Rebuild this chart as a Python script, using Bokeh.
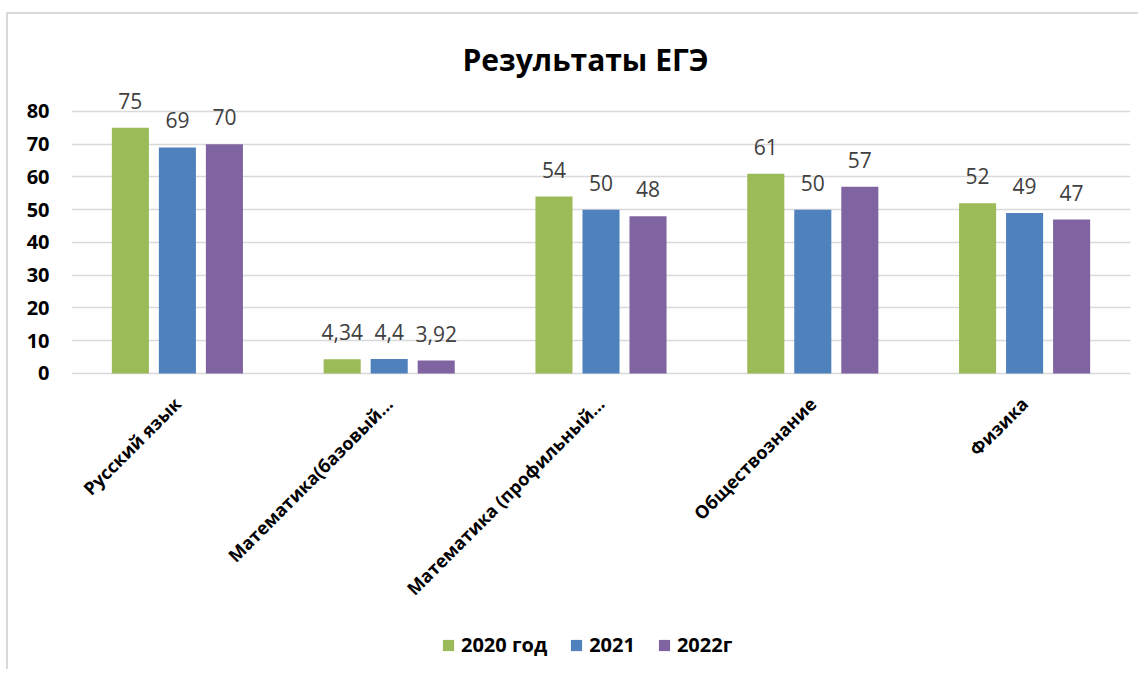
import math
from bokeh.plotting import figure
from bokeh.models import (ColumnDataSource, Range1d, FactorRange, FixedTicker, LabelSet,
                          Legend, LegendItem)
from bokeh.transform import dodge
from bokeh.core.properties import value
from bokeh.embed import file_html
from bokeh.resources import INLINE

categories = ["Русский язык", "Математика(базовый…", "Математика (профильный…",
              "Обществознание", "Физика"]
series_names = ["2020 год", "2021", "2022г"]
values_2020 = [75, 4.34, 54, 61, 52]
values_2021 = [69, 4.4, 50, 50, 49]
values_2022 = [70, 3.92, 48, 57, 47]
y_ticks = [0, 10, 20, 30, 40, 50, 60, 70, 80]
colors = ["#9BBB59", "#4F81BD", "#8064A2"]


def fmt(v):
    return f"{v:g}".replace(".", ",")


data = dict(cat=categories,
            zero=[0] * len(categories),
            v2020=values_2020, v2021=values_2021, v2022=values_2022,
            t2020=[fmt(v) for v in values_2020],
            t2021=[fmt(v) for v in values_2021],
            t2022=[fmt(v) for v in values_2022])
src = ColumnDataSource(data)

FONT = "Open Sans"

# the frame reaches below zero so that the rotated category labels and the
# legend can be drawn inside it
p = figure(x_range=FactorRange(*categories), y_range=Range1d(-90.4, 86.4),
           frame_width=1059, frame_height=579,
           min_border_left=63, min_border_right=8, min_border_top=76, min_border_bottom=0,
           output_backend="svg", toolbar_location=None, title="Результаты ЕГЭ")
p.margin = (12, 0, 0, 6)
p.styles = {"border-top": "2px solid #d9d9d9", "border-left": "2px solid #d9d9d9"}

p.title.align = "left"
p.title.offset = 391
p.title.standoff = 22
p.title.text_font = FONT
p.title.text_font_size = "30px"
p.title.text_font_style = "bold"
p.title.text_color = "#000000"

p.outline_line_color = None
p.background_fill_color = "white"
p.border_fill_color = "white"

p.xgrid.grid_line_color = None
p.ygrid.grid_line_color = "#D9D9D9"
p.ygrid.grid_line_width = 1.3
p.ygrid.ticker = FixedTicker(ticks=y_ticks)

p.yaxis.ticker = FixedTicker(ticks=y_ticks)
p.yaxis.axis_line_color = None
p.yaxis.major_tick_line_color = None
p.yaxis.minor_tick_line_color = None
p.yaxis.major_label_standoff = 16
p.yaxis.major_label_text_font = FONT
p.yaxis.major_label_text_font_size = "20px"
p.yaxis.major_label_text_font_style = "bold"
p.yaxis.major_label_text_color = "#000000"

p.xaxis.visible = False

cat_labels = LabelSet(x="cat", y="zero", text="cat", source=src, angle=math.pi / 4,
                      text_align="right", text_baseline="middle",
                      x_offset=0, y_offset=-27,
                      text_font=value(FONT), text_font_size="18px", text_font_style="bold",
                      text_color="#000000")
p.add_layout(cat_labels)

offsets = [-0.222, 0.0, 0.222]
cols = ["2020", "2021", "2022"]
renderers = []
for off, col, color in zip(offsets, cols, colors):
    r = p.vbar(x=dodge("cat", off, range=p.x_range), top="v" + col, width=0.175,
               source=src, fill_color=color, line_color=None)
    renderers.append(r)
    labels = LabelSet(x=dodge("cat", off, range=p.x_range), y="v" + col, text="t" + col,
                      source=src, text_align="center", text_baseline="alphabetic",
                      y_offset=19, text_font=value(FONT), text_font_size="21px",
                      text_color="#404040")
    p.add_layout(labels)

legend = Legend(items=[LegendItem(label=n, renderers=[r]) for n, r in zip(series_names, renderers)],
                orientation="horizontal", location=(370, 11), margin=0, padding=0,
                glyph_width=14, glyph_height=14, label_standoff=6, spacing=22,
                label_text_font=FONT, label_text_font_size="20px",
                label_text_font_style="bold", label_text_color="#000000",
                border_line_color=None, background_fill_alpha=0)
p.add_layout(legend, "center")

open("out.html", "w").write(file_html(p, INLINE))
